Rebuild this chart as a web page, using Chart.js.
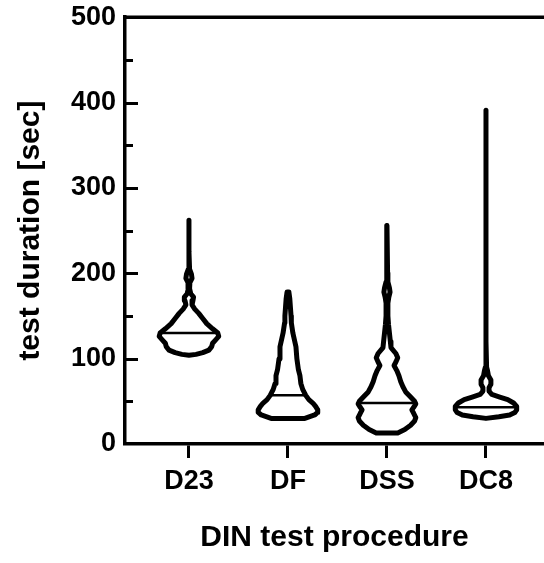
<!DOCTYPE html>
<html>
<head>
<meta charset="utf-8">
<script src="https://cdn.jsdelivr.net/npm/chart.js@4.4.1/dist/chart.umd.min.js"></script>
<style>
  html, body { margin: 0; padding: 0; background: #fff; }
  #wrap { width: 544px; height: 563px; position: relative; }
</style>
</head>
<body>
<div id="wrap"><canvas id="c"></canvas></div>
<script>
// categories and axis ticks
var categories = ['D23', 'DF', 'DSS', 'DC8'];
var yMajorTicks = [0, 100, 200, 300, 400, 500];
var yMinorTicks = [50, 150, 250, 350, 450];

// violin profiles: levels (sec, top to bottom) and relative density (1 = widest)
var d23Levels  = [262, 225, 205, 199, 194, 189, 182, 176, 172, 168, 163, 158, 153, 147, 141, 135, 130, 126, 122, 118, 114, 110, 107, 105, 104];
var d23Density = [0, 0, 0.02, 0.08, 0.1, 0.03, 0.02, 0.06, 0.15, 0.13, 0.1, 0.19, 0.32, 0.45, 0.58, 0.77, 0.94, 0.97, 0.87, 0.77, 0.74, 0.65, 0.45, 0.23, 0];

var dfLevels  = [178, 170, 160, 150, 142, 130, 114, 100, 87, 80, 71, 64, 57, 52, 48, 44, 40, 37, 34, 32, 30];
var dfDensity = [0.03, 0.06, 0.08, 0.1, 0.11, 0.16, 0.26, 0.29, 0.34, 0.39, 0.42, 0.48, 0.58, 0.68, 0.81, 0.9, 0.97, 0.97, 0.87, 0.71, 0.55];

var dssLevels  = [256, 200, 190, 183, 178, 172, 165, 150, 140, 130, 120, 113, 106, 101, 96, 92, 86, 80, 73, 67, 61, 55, 50, 47, 43, 40, 36, 31, 27, 22, 17, 13];
var dssDensity = [0, 0.02, 0.03, 0.08, 0.1, 0.06, 0.03, 0.03, 0.05, 0.08, 0.11, 0.13, 0.29, 0.35, 0.29, 0.23, 0.32, 0.39, 0.45, 0.52, 0.61, 0.77, 0.9, 0.94, 0.87, 0.81, 0.87, 0.94, 0.9, 0.77, 0.58, 0.35];

var dc8Levels  = [391, 300, 200, 120, 90, 86, 80, 75, 70, 66, 62, 58, 55, 52, 48, 44, 40, 37, 34, 32, 30];
var dc8Density = [0, 0, 0, 0, 0.02, 0.05, 0.08, 0.16, 0.16, 0.1, 0.1, 0.19, 0.45, 0.71, 0.9, 1, 1, 0.94, 0.77, 0.42, 0];

var medians = [130, 57, 48, 43];

var profiles = [
  [d23Levels, d23Density],
  [dfLevels, dfDensity],
  [dssLevels, dssDensity],
  [dc8Levels, dc8Density]
];

var HALF = 0.31;   // half width of a density-1 violin, in category units
var FONT = 'Liberation Sans, Arial, Helvetica, sans-serif';

function violinPoints(pos, levels, dens) {
  var right = levels.map(function (v, k) { return { x: pos + dens[k] * HALF, y: v }; });
  var left = levels.map(function (v, k) { return { x: pos - dens[k] * HALF, y: v }; }).reverse();
  return right.concat(left, [right[0]]);
}

function densityAt(levels, dens, v) {
  for (var k = 0; k < levels.length - 1; k++) {
    if (v <= levels[k] && v >= levels[k + 1]) {
      var t = (levels[k] - v) / (levels[k] - levels[k + 1]);
      return dens[k] + t * (dens[k + 1] - dens[k]);
    }
  }
  return 0;
}

var datasets = [];
profiles.forEach(function (p, i) {
  datasets.push({
    data: violinPoints(i + 1, p[0], p[1]),
    showLine: true, fill: false, borderColor: '#000', borderWidth: 5,
    borderJoinStyle: 'round', borderCapStyle: 'round', pointRadius: 0, tension: 0
  });
  var w = densityAt(p[0], p[1], medians[i]) * HALF;
  datasets.push({
    data: [{ x: i + 1 - w, y: medians[i] }, { x: i + 1 + w, y: medians[i] }],
    showLine: true, fill: false, borderColor: '#000', borderWidth: 2.5, pointRadius: 0
  });
});

// inward y ticks (major and minor) and the top frame line
var frameTicks = {
  id: 'frameTicks',
  afterDraw: function (chart) {
    var ctx = chart.ctx, area = chart.chartArea, y = chart.scales.y;
    ctx.save();
    ctx.strokeStyle = '#000';
    ctx.lineWidth = 3;
    yMajorTicks.slice(1, -1).forEach(function (v) {
      var py = Math.round(y.getPixelForValue(v)) + 0.5;
      ctx.beginPath(); ctx.moveTo(area.left, py); ctx.lineTo(area.left + 13, py); ctx.stroke();
    });
    yMinorTicks.forEach(function (v) {
      var py = Math.round(y.getPixelForValue(v)) + 0.5;
      ctx.beginPath(); ctx.moveTo(area.left, py); ctx.lineTo(area.left + 8, py); ctx.stroke();
    });
    ctx.lineWidth = 3.5;
    var top = y.getPixelForValue(500);
    ctx.beginPath(); ctx.moveTo(area.left - 1.5, top); ctx.lineTo(area.right, top); ctx.stroke();
    ctx.restore();
  }
};

new Chart(document.getElementById('c'), {
  type: 'scatter',
  data: { datasets: datasets },
  options: {
    responsive: true,
    maintainAspectRatio: false,
    animation: false,
    layout: { padding: { top: 17, right: 0, bottom: 0, left: 0 } },
    plugins: { legend: { display: false }, tooltip: { enabled: false } },
    scales: {
      x: {
        type: 'linear',
        min: 0.354,
        max: 4.586,
        afterBuildTicks: function (s) { s.ticks = categories.map(function (c, i) { return { value: i + 1 }; }); },
        afterFit: function (s) { s.height = 119; },
        grid: { display: true, drawOnChartArea: false, drawTicks: true, tickLength: 14, tickWidth: 3, tickColor: '#000' },
        border: { display: true, width: 3.5, color: '#000' },
        ticks: {
          autoSkip: false, maxRotation: 0, padding: 7, color: '#000',
          font: { family: FONT, size: 27, weight: 'bold' },
          callback: function (v) { return categories[v - 1]; }
        },
        title: {
          display: true, text: 'DIN test procedure', color: '#000',
          font: { family: FONT, size: 30, weight: 'bold' },
          padding: { top: 0, bottom: 7 }
        }
      },
      y: {
        min: 0,
        max: 500,
        afterBuildTicks: function (s) { s.ticks = yMajorTicks.map(function (v) { return { value: v }; }); },
        afterFit: function (s) { s.width = 125; },
        grid: { display: false },
        border: { display: true, width: 3.5, color: '#000' },
        ticks: {
          padding: 1, color: '#000',
          font: { family: FONT, size: 27, weight: 'bold' }
        },
        title: {
          display: true, text: 'test duration [sec]', color: '#000',
          font: { family: FONT, size: 30, weight: 'bold' },
          padding: { top: 13, bottom: 0 }
        }
      }
    }
  },
  plugins: [frameTicks]
});
</script>
</body>
</html>
